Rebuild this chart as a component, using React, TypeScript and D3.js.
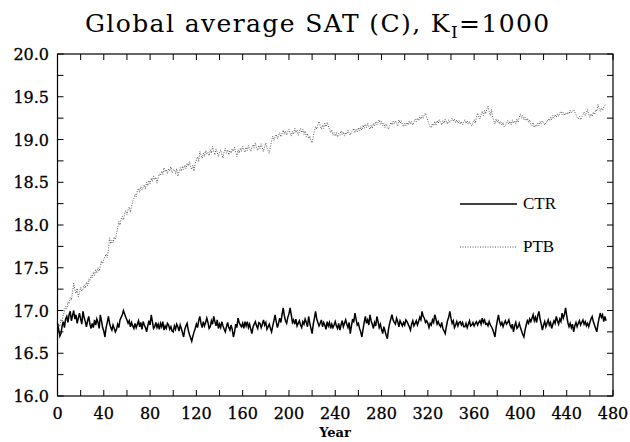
import React from "react";
import * as d3 from "d3";

const ctr: number[] = [
16.85,16.78,16.70,16.73,16.82,16.87,16.80,16.90,16.93,16.86,
16.95,16.99,16.88,16.94,17.00,16.90,16.95,16.85,16.91,16.97,
16.90,16.84,16.99,16.92,16.87,16.81,16.88,16.93,16.84,16.79,
16.85,16.80,16.89,16.83,16.90,16.86,16.79,16.95,16.88,16.80,
16.76,16.69,16.80,16.86,16.93,16.85,16.80,16.77,16.83,16.79,
16.75,16.78,16.84,16.80,16.89,16.92,16.95,17.00,16.96,16.92,
16.89,16.85,16.88,16.81,16.86,16.82,16.79,16.85,16.80,16.84,
16.88,16.81,16.86,16.78,16.87,16.83,16.80,16.75,16.82,16.88,
16.83,16.95,16.87,16.79,16.81,16.86,16.80,16.84,16.78,16.85,
16.81,16.87,16.77,16.82,16.79,16.85,16.83,16.78,16.81,16.76,
16.75,16.82,16.78,16.84,16.81,16.76,16.83,16.79,16.74,16.69,
16.78,16.82,16.85,16.77,16.72,16.68,16.64,16.70,16.75,16.79,
16.84,16.80,16.88,16.93,16.85,16.80,16.87,16.82,16.86,16.91,
16.86,16.79,16.81,16.88,16.84,16.93,16.87,16.82,16.89,16.79,
16.84,16.80,16.87,16.82,16.78,16.75,16.81,16.86,16.80,16.77,
16.83,16.78,16.69,16.75,16.84,16.80,16.91,16.86,16.83,16.81,
16.85,16.79,16.87,16.82,16.87,16.80,16.84,16.78,16.73,16.81,
16.84,16.87,16.82,16.79,16.86,16.85,16.80,16.84,16.89,16.83,
16.86,16.78,16.81,16.84,16.79,16.75,16.82,16.88,16.95,16.87,
16.80,16.85,16.91,16.86,16.95,17.03,16.94,16.88,16.85,16.92,
16.96,17.03,16.95,16.86,16.89,16.84,16.90,16.82,16.85,16.88,
16.83,16.80,16.87,16.84,16.90,16.86,16.81,16.93,16.85,16.79,
16.73,16.84,16.91,16.99,16.90,16.86,16.82,16.85,16.89,16.81,
16.86,16.83,16.78,16.87,16.82,16.86,16.79,16.84,16.80,16.83,
16.87,16.82,16.79,16.85,16.77,16.83,16.88,16.81,16.85,16.89,
16.84,16.80,16.86,16.73,16.82,16.90,16.86,16.97,16.90,16.83,
16.85,16.79,16.75,16.69,16.78,16.86,16.93,16.85,16.89,16.83,
16.95,16.88,16.84,16.79,16.86,16.82,16.93,16.87,16.80,16.84,
16.78,16.73,16.81,16.76,16.71,16.67,16.78,16.85,16.90,16.95,
16.89,16.86,16.84,16.91,16.87,16.81,16.88,16.85,16.82,16.86,
16.83,16.89,16.87,16.84,16.81,16.77,16.84,16.88,16.82,16.85,
16.88,16.83,16.87,16.92,16.89,16.99,16.93,16.91,16.86,16.88,
16.85,16.80,16.85,16.83,16.89,16.86,16.95,16.90,16.84,16.87,
16.83,16.81,16.86,16.79,16.76,16.73,16.81,16.88,16.92,16.99,
16.91,16.85,16.88,16.80,16.83,16.87,16.82,16.86,16.87,16.83,
16.86,16.81,16.81,16.85,16.80,16.84,16.88,16.82,16.83,16.86,
16.82,16.85,16.87,16.83,16.86,16.88,16.84,16.91,16.86,16.89,
16.84,16.85,16.82,16.87,16.83,16.81,16.78,16.74,16.69,16.80,
16.88,16.95,16.87,16.83,16.86,16.81,16.85,16.88,16.84,16.86,
16.89,16.83,16.80,16.84,16.75,16.82,16.86,16.79,16.81,16.85,
16.80,16.76,16.72,16.69,16.77,16.83,16.88,16.85,16.90,16.87,
16.91,16.95,16.88,16.92,16.86,16.94,16.99,16.90,16.84,16.77,
16.83,16.87,16.81,16.85,16.89,16.83,16.86,16.79,16.84,16.88,
16.85,16.93,16.88,16.84,16.90,16.87,16.97,16.91,16.95,17.03,
16.94,16.86,16.81,16.85,16.80,16.84,16.75,16.82,16.86,16.81,
16.85,16.88,16.83,16.86,16.89,16.84,16.87,16.82,16.85,16.81,
16.86,16.90,16.93,16.87,16.83,16.79,16.75,16.84,16.91,16.97,
16.92,16.95,16.87,16.93,16.88
];

const ptb: number[] = [
16.80,16.84,16.81,16.90,16.87,16.95,16.98,17.05,17.02,17.10,
17.08,17.15,17.12,17.22,17.32,17.24,17.20,17.26,17.16,17.21,
17.27,17.23,17.25,17.30,17.26,17.33,17.29,17.37,17.35,17.41,
17.38,17.45,17.41,17.48,17.44,17.50,17.46,17.51,17.58,17.55,
17.60,17.63,17.66,17.62,17.71,17.85,17.78,17.82,17.79,17.86,
17.83,17.90,17.97,18.04,18.00,18.07,18.10,18.06,18.13,18.17,
18.12,18.18,18.21,18.15,18.22,18.28,18.31,18.36,18.33,18.40,
18.43,18.38,18.45,18.41,18.44,18.47,18.42,18.50,18.46,18.52,
18.48,18.55,18.51,18.57,18.53,18.56,18.49,18.55,18.60,18.58,
18.63,18.59,18.67,18.62,18.65,18.60,18.66,18.63,18.68,18.61,
18.64,18.65,18.60,18.66,18.57,18.62,18.67,18.63,18.69,18.65,
18.70,18.66,18.72,18.69,18.74,18.68,18.65,18.70,18.63,18.72,
18.76,18.80,18.74,18.86,18.82,18.78,18.84,18.80,18.87,18.83,
18.85,18.81,18.88,18.84,18.92,18.86,18.82,18.89,18.85,18.80,
18.85,18.88,18.83,18.78,18.86,18.90,18.84,18.88,18.82,18.87,
18.84,18.89,18.86,18.91,18.85,18.80,18.88,18.84,18.90,18.86,
18.92,18.88,18.85,18.91,18.87,18.93,18.89,18.86,18.91,18.94,
18.90,18.96,18.91,18.87,18.93,18.89,18.95,18.90,18.86,18.92,
18.96,18.90,18.87,18.84,18.92,18.98,19.04,18.99,19.03,19.06,
19.01,19.05,19.08,19.03,19.07,19.11,19.06,19.10,19.05,19.09,
19.12,19.07,19.04,19.10,19.06,19.13,19.08,19.11,19.05,19.09,
19.13,19.08,19.12,19.06,19.10,19.03,19.07,19.01,19.04,18.99,
18.96,19.03,19.10,19.15,19.12,19.18,19.21,19.16,19.12,19.17,
19.13,19.19,19.15,19.20,19.16,19.12,19.08,19.11,19.05,19.08,
19.04,19.08,19.03,19.07,19.05,19.10,19.06,19.09,19.04,19.08,
19.06,19.11,19.07,19.05,19.09,19.10,19.13,19.08,19.12,19.09,
19.14,19.10,19.15,19.11,19.17,19.13,19.18,19.14,19.19,19.15,
19.12,19.17,19.13,19.19,19.16,19.21,19.17,19.20,19.23,19.18,
19.21,19.16,19.19,19.14,19.18,19.15,19.12,19.16,19.20,19.17,
19.21,19.18,19.22,19.19,19.16,19.23,19.19,19.22,19.18,19.15,
19.19,19.16,19.20,19.17,19.22,19.18,19.21,19.17,19.20,19.24,
19.21,19.25,19.22,19.27,19.24,19.28,19.25,19.29,19.31,19.26,
19.22,19.18,19.15,19.14,19.19,19.16,19.21,19.17,19.22,19.19,
19.23,19.20,19.17,19.22,19.19,19.24,19.21,19.18,19.23,19.20,
19.22,19.25,19.21,19.24,19.20,19.23,19.19,19.22,19.18,19.21,
19.17,19.20,19.23,19.19,19.22,19.18,19.21,19.17,19.16,19.20,
19.23,19.19,19.26,19.31,19.27,19.24,19.29,19.33,19.28,19.34,
19.30,19.36,19.39,19.33,19.28,19.35,19.26,19.22,19.18,19.24,
19.20,19.23,19.18,19.21,19.17,19.20,19.15,19.16,19.19,19.22,
19.18,19.21,19.17,19.23,19.19,19.22,19.18,19.24,19.20,19.26,
19.30,19.25,19.28,19.23,19.26,19.22,19.25,19.20,19.23,19.18,
19.16,19.20,19.14,19.17,19.15,19.19,19.16,19.21,19.18,19.22,
19.19,19.17,19.21,19.20,19.24,19.22,19.26,19.23,19.28,19.25,
19.29,19.26,19.30,19.27,19.31,19.33,19.29,19.32,19.28,19.31,
19.29,19.32,19.30,19.34,19.31,19.33,19.35,19.32,19.29,19.26,
19.24,19.27,19.23,19.26,19.29,19.32,19.28,19.31,19.35,19.30,
19.26,19.30,19.27,19.32,19.29,19.35,19.33,19.41,19.36,19.33,
19.37,19.34,19.38,19.40,19.42
];

const xMajorTicks = [0, 40, 80, 120, 160, 200, 240, 280, 320, 360, 400, 440, 480];
const xMinorTicks = [20, 60, 100, 140, 180, 220, 260, 300, 340, 380, 420, 460];
const yMajorTicks = [16.0, 16.5, 17.0, 17.5, 18.0, 18.5, 19.0, 19.5, 20.0];
const yMinorTicks = [16.25, 16.75, 17.25, 17.75, 18.25, 18.75, 19.25, 19.75];
const seriesNames = ["CTR", "PTB"];

const W = 630, H = 442;
const L = 57.5, R = 613, T = 54, B = 396;

export default function App() {
  const x = d3.scaleLinear().domain([0, 480]).range([L, R]);
  const y = d3.scaleLinear().domain([16, 20]).range([B, T]);
  const line = d3.line<number>().x((_, i) => x(i)).y((d) => y(d));
  const tl = 6;
  const font = "'DejaVu Serif', serif";
  const allX = [...xMajorTicks, ...xMinorTicks];
  const allY = [...yMajorTicks, ...yMinorTicks];
  return (
    <svg width={W} height={H} style={{ position: "absolute", left: 0, top: 0, background: "#fff" }}>
      <rect width={W} height={H} fill="#fff" />
      <text x={85} y={32} fontFamily={font} fontSize={25} letterSpacing={1.4} fill="#000">
        Global average SAT (C), K<tspan fontSize={17} dy={6}>I</tspan><tspan dy={-6}>=1000</tspan>
      </text>
      <path d={line(ptb) || ""} fill="none" stroke="#555" strokeWidth={1} strokeDasharray="1,1.5" />
      <path d={line(ctr) || ""} fill="none" stroke="#000" strokeWidth={1.5} />
      <rect x={L} y={T} width={R - L} height={B - T} fill="none" stroke="#000" strokeWidth={1.2} />
      {allX.map((t) => (
        <g key={"x" + t}>
          <line x1={x(t)} x2={x(t)} y1={B} y2={B - tl} stroke="#000" />
          <line x1={x(t)} x2={x(t)} y1={T} y2={T + tl} stroke="#000" />
        </g>
      ))}
      {allY.map((t) => (
        <g key={"y" + t}>
          <line x1={L} x2={L + tl} y1={y(t)} y2={y(t)} stroke="#000" />
          <line x1={R} x2={R - tl} y1={y(t)} y2={y(t)} stroke="#000" />
        </g>
      ))}
      {xMajorTicks.map((t) => (
        <text key={"xl" + t} x={x(t)} y={419} textAnchor="middle" fontFamily={font} fontSize={16} stroke="#000" strokeWidth={0.3}>{t}</text>
      ))}
      {yMajorTicks.map((t) => (
        <text key={"yl" + t} x={49} y={y(t) + 6} textAnchor="end" fontFamily={font} fontSize={16} stroke="#000" strokeWidth={0.3}>{t.toFixed(1)}</text>
      ))}
      <text x={335} y={437} textAnchor="middle" fontFamily={font} fontSize={13} fontWeight="bold">Year</text>
      <line x1={460} x2={517} y1={204} y2={204} stroke="#000" strokeWidth={1.3} />
      <text x={523} y={209} fontFamily="'Liberation Serif', serif" fontSize={17}>{seriesNames[0]}</text>
      <line x1={460} x2={517} y1={247} y2={247} stroke="#555" strokeWidth={1} strokeDasharray="1,1.5" />
      <text x={523} y={252} fontFamily="'Liberation Serif', serif" fontSize={17}>{seriesNames[1]}</text>
    </svg>
  );
}
